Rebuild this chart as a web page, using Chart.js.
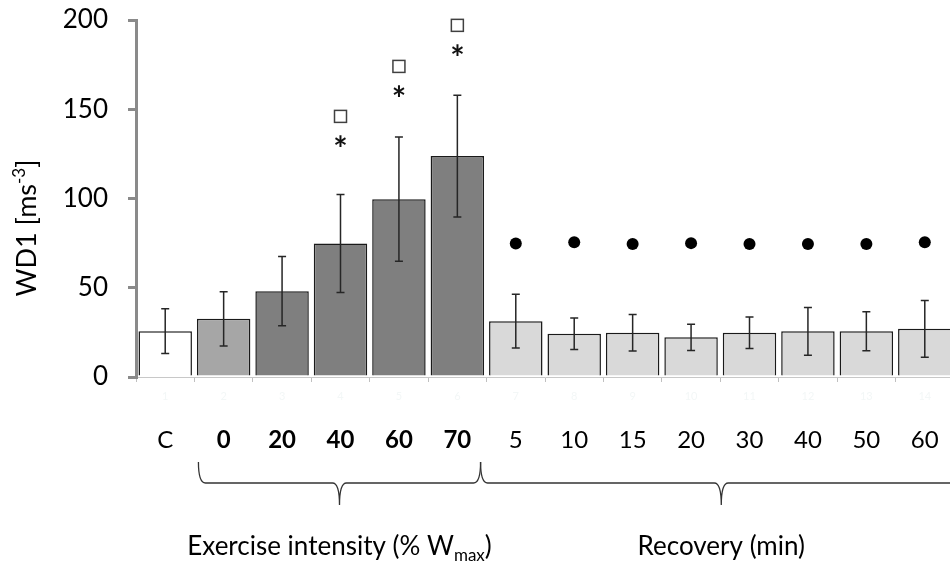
<!DOCTYPE html>
<html>
<head>
<meta charset="utf-8">
<script src="https://cdn.jsdelivr.net/npm/chart.js@4.4.1/dist/chart.umd.min.js"></script>
<style>
  html, body { margin: 0; padding: 0; background: #fff; overflow: hidden; }
  #wrap { width: 960px; height: 565px; position: relative; }
</style>
</head>
<body>
<div id="wrap"><canvas id="c"></canvas></div>
<script>
// Category labels under each bar (C = control, exercise % Wmax, recovery minutes)
const categories = ['C', '0', '20', '40', '60', '70', '5', '10', '15', '20', '30', '40', '50', '60'];
// Group of each category: 'ctrl', 'warm', 'ex', 'rec'
const groups = ['ctrl', 'warm', 'ex', 'ex', 'ex', 'ex', 'rec', 'rec', 'rec', 'rec', 'rec', 'rec', 'rec', 'rec'];
// Mean WD1 and SD
const meanWD1 = [25.7, 32.6, 48.1, 74.8, 99.6, 123.8, 31.3, 24.2, 24.8, 22.2, 24.8, 25.6, 25.6, 27.0];
const sdWD1 = [12.6, 15.2, 19.4, 27.4, 34.8, 34.1, 15.1, 8.8, 10.2, 7.4, 8.8, 13.4, 10.9, 15.9];
// Significance markers (value level where each symbol sits; null = none)
const starAt = [null, null, null, 132, 160, 183, null, null, null, null, null, null, null, null];
const squareAt = [null, null, null, 146, 174, 197, null, null, null, null, null, null, null, null];
const dotAt = [null, null, null, null, null, null, 74.8, 75.5, 74.5, 75, 74.5, 74.5, 74.5, 75.5];
// Y axis ticks
const yTicks = [0, 50, 100, 150, 200];
// Brace groups under the axis: [first index, last index, title, subscript, closing text]
const braceGroups = [[1, 5, 'Exercise intensity (% W', 'max', ')'], [6, 13, 'Recovery (min)', '', '']];

const FONT = 'Lato, "Open Sans", sans-serif';
const fillByGroup = { ctrl: '#ffffff', warm: '#a6a6a6', ex: '#7f7f7f', rec: '#d9d9d9' };

const overlay = {
  id: 'overlay',
  afterDatasetsDraw(chart) {
    const ctx = chart.ctx;
    const xs = chart.scales.x, ys = chart.scales.y;
    ctx.save();

    // error bars
    ctx.strokeStyle = '#262626';
    ctx.lineWidth = 1.5;
    meanWD1.forEach((m, i) => {
      const x = xs.getPixelForValue(i);
      const yt = ys.getPixelForValue(m + sdWD1[i]);
      const yb = ys.getPixelForValue(m - sdWD1[i]);
      ctx.beginPath();
      ctx.moveTo(x, yt); ctx.lineTo(x, yb);
      ctx.moveTo(x - 4, yt); ctx.lineTo(x + 4, yt);
      ctx.moveTo(x - 4, yb); ctx.lineTo(x + 4, yb);
      ctx.stroke();
    });

    // asterisks
    ctx.fillStyle = '#111';
    ctx.font = 'bold 34px ' + FONT;
    ctx.textAlign = 'center';
    ctx.textBaseline = 'alphabetic';
    const mm = ctx.measureText('*');
    const starShift = (mm.actualBoundingBoxAscent - mm.actualBoundingBoxDescent) / 2;
    starAt.forEach((v, i) => {
      if (v == null) return;
      ctx.fillText('*', xs.getPixelForValue(i), ys.getPixelForValue(v) + starShift);
    });

    // open squares
    ctx.strokeStyle = '#404040';
    ctx.fillStyle = '#fff';
    ctx.lineWidth = 1.5;
    squareAt.forEach((v, i) => {
      if (v == null) return;
      const x = xs.getPixelForValue(i), y = ys.getPixelForValue(v);
      ctx.fillRect(x - 6, y - 6, 12, 12);
      ctx.strokeRect(x - 6, y - 6, 12, 12);
    });

    // filled dots
    ctx.fillStyle = '#000';
    dotAt.forEach((v, i) => {
      if (v == null) return;
      ctx.beginPath();
      ctx.arc(xs.getPixelForValue(i), ys.getPixelForValue(v), 6, 0, Math.PI * 2);
      ctx.fill();
    });

    // category labels
    ctx.fillStyle = '#000';
    ctx.textBaseline = 'alphabetic';
    categories.forEach((c, i) => {
      ctx.font = (groups[i] === 'warm' || groups[i] === 'ex' ? 'bold ' : '') + '24px ' + FONT;
      ctx.fillText(c, xs.getPixelForValue(i), 448);
    });

    // braces
    const half = (xs.getPixelForValue(1) - xs.getPixelForValue(0)) / 2;
    ctx.strokeStyle = '#333';
    ctx.lineWidth = 1.3;
    const yTop = 462, yMid = 483, yTip = 505, r = 7;
    braceGroups.forEach((g, k) => {
      const x0 = xs.getPixelForValue(g[0]) - half + (k === 0 ? 4 : -6);
      const x1 = xs.getPixelForValue(g[1]) + half - (k === 0 ? 6 : -8);
      const xc = (x0 + x1) / 2;
      ctx.beginPath();
      ctx.moveTo(x0, yTop);
      ctx.quadraticCurveTo(x0, yMid, x0 + r, yMid);
      ctx.lineTo(xc - r, yMid);
      ctx.quadraticCurveTo(xc, yMid, xc, yTip);
      ctx.quadraticCurveTo(xc, yMid, xc + r, yMid);
      ctx.lineTo(x1 - r, yMid);
      ctx.quadraticCurveTo(x1, yMid, x1, yTop);
      ctx.stroke();

      // group title with optional subscript
      const main = 26, sub = 17;
      ctx.font = main + 'px ' + FONT;
      const w1 = ctx.measureText(g[2]).width;
      const w3 = ctx.measureText(g[4]).width;
      ctx.font = sub + 'px ' + FONT;
      const w2 = ctx.measureText(g[3]).width;
      let x = xc - (w1 + w2 + w3) / 2;
      ctx.textAlign = 'left';
      ctx.font = main + 'px ' + FONT;
      ctx.fillText(g[2], x, 555); x += w1;
      ctx.font = sub + 'px ' + FONT;
      ctx.fillText(g[3], x, 561); x += w2;
      ctx.font = main + 'px ' + FONT;
      ctx.fillText(g[4], x, 555);
      ctx.textAlign = 'center';
    });

    // y-axis title with superscript
    ctx.save();
    ctx.translate(36, 228);
    ctx.rotate(-Math.PI / 2);
    ctx.textAlign = 'left';
    ctx.font = '27px ' + FONT;
    const t1 = 'WD1 [ms', t3 = ']';
    const a = ctx.measureText(t1).width, c3 = ctx.measureText(t3).width;
    ctx.font = '17px ' + FONT;
    const b = ctx.measureText('-3').width;
    let tx = -(a + b + c3) / 2;
    ctx.font = '27px ' + FONT;
    ctx.fillText(t1, tx, 0); tx += a;
    ctx.font = '17px ' + FONT;
    ctx.fillText('-3', tx, -11); tx += b;
    ctx.font = '27px ' + FONT;
    ctx.fillText(t3, tx, 0);
    ctx.restore();

    ctx.restore();
  }
};

new Chart(document.getElementById('c'), {
  type: 'bar',
  data: {
    labels: categories.map((_, i) => String(i + 1)),
    datasets: [{
      data: meanWD1,
      backgroundColor: groups.map(g => fillByGroup[g]),
      borderColor: '#1a1a1a',
      borderWidth: 1.5,
      barPercentage: 0.915,
      categoryPercentage: 1.0
    }]
  },
  options: {
    responsive: true,
    maintainAspectRatio: false,
    animation: false,
    devicePixelRatio: 1,
    layout: { padding: { top: 20, right: 6, left: 0, bottom: 0 } },
    plugins: { legend: { display: false }, tooltip: { enabled: false } },
    scales: {
      x: {
        afterFit(s) { s.height = 188; s.paddingLeft = 0; s.paddingRight = 0; },
        border: { display: true, color: '#c8c8c8', width: 1 },
        grid: { display: true, drawOnChartArea: false, drawTicks: true, tickLength: 5, color: '#c0c0c0', offset: true },
        ticks: { color: '#f3f7f7', font: { size: 11, family: FONT }, padding: 8, maxRotation: 0 }
      },
      y: {
        min: 0, max: 200,
        afterFit(s) { s.width = 136; s.paddingTop = 0; s.paddingBottom = 0; },
        afterBuildTicks(s) { s.ticks = yTicks.map(v => ({ value: v })); },
        border: { display: true, color: '#8a8a8a', width: 3 },
        grid: { display: true, drawOnChartArea: false, drawTicks: true, tickLength: 8, color: '#8a8a8a', lineWidth: 3 },
        ticks: { color: '#000', font: { size: 26, family: FONT }, padding: 20 }
      }
    }
  },
  plugins: [overlay]
});
</script>
</body>
</html>
